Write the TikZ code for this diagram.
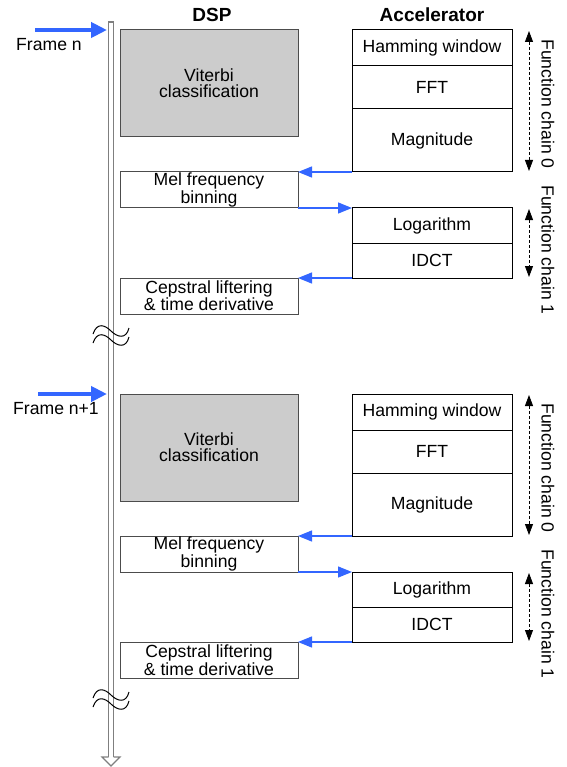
\documentclass[tikz,border=0pt]{standalone}
\usepackage{fontspec}
\setmainfont{Liberation Sans}
\usetikzlibrary{arrows.meta}
\definecolor{flowblue}{HTML}{3366FF}
\definecolor{procgray}{HTML}{CCCCCC}
\definecolor{railgray}{HTML}{7F7F7F}

\begin{document}
\begin{tikzpicture}[x=1pt,y=-1pt,
  txt/.style={font=\fontsize{17.6}{16}\selectfont, align=center, inner sep=0pt},
  dspbox/.style={draw=black!70, line width=1pt, txt, outer sep=0pt, anchor=north west, minimum width=178pt},
  accbox/.style={draw=black, line width=1pt, txt, outer sep=0pt, anchor=north west, minimum width=160pt},
  heading/.style={font=\fontsize{19}{19}\selectfont\bfseries, inner sep=0pt},
  handoff/.style={flowblue, line width=1.3pt, -{Triangle[length=14pt,width=11pt]}},
  framearrow/.style={flowblue, line width=4.5pt, -{Triangle[length=16pt,width=15pt]}},
  chain/.style={densely dashed, line width=0.8pt, {Triangle[length=11pt,width=8pt]}-{Triangle[length=11pt,width=8pt]}},
  rail/.style={railgray, line width=1.2pt},
  wave/.style={black, line width=1pt},
]
\useasboundingbox (0,0) rectangle (566,767);

% column headings
\node[heading] (dsp) at (212,15) {DSP};
\node[heading] (acc) at (432,15) {Accelerator};

% time rail with open arrow head
\draw[rail] (108.5,757) -- (108.5,22) -- (113.5,22) -- (113.5,757);
\draw[rail, fill=white] (108.5,757) -- (102,757) -- (111,766) -- (120,757) -- (113.5,757);

\foreach \f/\oy/\lab/\sx/\lx in {0/0/n/35/49, 1/364/n+1/38/56}{
  \begin{scope}[shift={(0,\oy)}]
    % frame marker
    \coordinate (fstart\f) at (\sx,30);
    \coordinate (fhit\f) at (107,30);
    \draw[framearrow] (fstart\f) -- (fhit\f);
    \node[txt] (flab\f) at (\lx,44.5) {Frame \lab};

    % DSP tasks
    \node[dspbox, fill=procgray, minimum height=107pt] (vit\f) at (120,30) {Viterbi\\classification};
    \node[dspbox, minimum height=36pt] (mel\f) at (120,172) {Mel frequency\\binning};
    \node[dspbox, minimum height=36pt] (cep\f) at (120,278) {Cepstral liftering\\\& time derivative};

    % accelerator function chains
    \node[accbox, minimum height=36pt] (ham\f) at (352,30) {Hamming window};
    \node[accbox, minimum height=43pt] (fft\f) at (352,66) {FFT};
    \node[accbox, minimum height=63pt] (mag\f) at (352,109) {Magnitude};
    \node[accbox, minimum height=35pt] (log\f) at (352,208) {Logarithm};
    \node[accbox, minimum height=35pt] (idct\f) at (352,243) {IDCT};

    % hand-offs between DSP and accelerator
    \draw[handoff] (mag\f.south west) -- (mel\f.north east);
    \draw[handoff] (mel\f.south east) -- (log\f.north west);
    \draw[handoff] (idct\f.south west) -- (cep\f.north east);

    % chain extents
    \coordinate (c0a\f) at (529,31);
    \coordinate (c0b\f) at (529,171);
    \coordinate (c1a\f) at (529,209);
    \coordinate (c1b\f) at (529,277);
    \draw[chain] (c0a\f) -- (c0b\f);
    \draw[chain] (c1a\f) -- (c1b\f);
    \node[txt, rotate=-90] (ch0\f) at (548,104) {Function chain 0};
    \node[txt, rotate=-90] (ch1\f) at (548,250) {Function chain 1};

    % break in the time rail
    \draw[wave] (93,334) .. controls (97,322) and (105,325) .. (111,331) .. controls (117,337) and (126,340) .. (129,328);
    \draw[wave] (93,343) .. controls (97,331) and (105,334) .. (111,340) .. controls (117,346) and (126,349) .. (129,337);
  \end{scope}
}
\end{tikzpicture}
\end{document}
